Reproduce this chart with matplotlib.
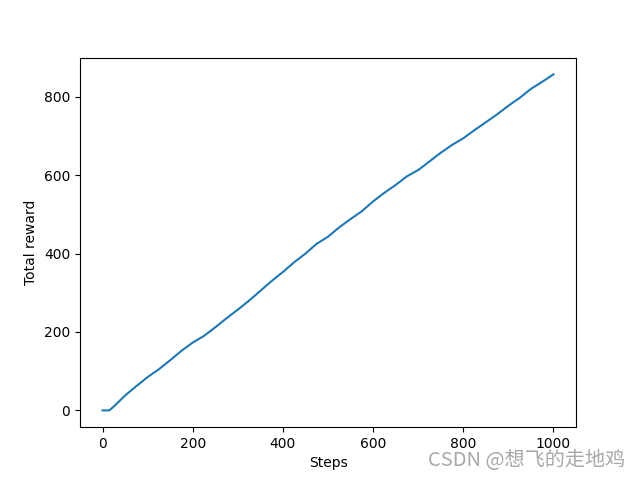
import matplotlib
matplotlib.use("Agg")
import matplotlib.pyplot as plt

steps = [0, 15, 25, 50, 75, 100, 125, 150, 175, 200, 225, 250, 275, 300, 325, 350, 375,
         400, 425, 450, 475, 500, 525, 550, 575, 600, 625, 650, 675, 700, 725, 750, 775,
         800, 825, 850, 875, 900, 925, 950, 975, 1000]
total_reward = [0, 0, 10, 38, 62, 85, 105, 128, 152, 173, 190, 212, 235, 257, 280, 305, 330,
                353, 378, 400, 425, 443, 467, 488, 508, 533, 555, 575, 597, 613, 635, 657, 677,
                694, 715, 735, 755, 777, 797, 820, 838, 857]

fig, ax = plt.subplots(figsize=(6.4, 4.8), dpi=100)
ax.plot(steps, total_reward, color="#1f77b4")
ax.set_xlabel("Steps")
ax.set_ylabel("Total reward")

fig.text(0.977, 0.018, "CSDN @想飞的走地鸡", ha="right", va="bottom", fontsize=14.5,
         color="#a8a8a8", family=["Noto Sans CJK SC", "DejaVu Sans"])

fig.savefig("out.png")
